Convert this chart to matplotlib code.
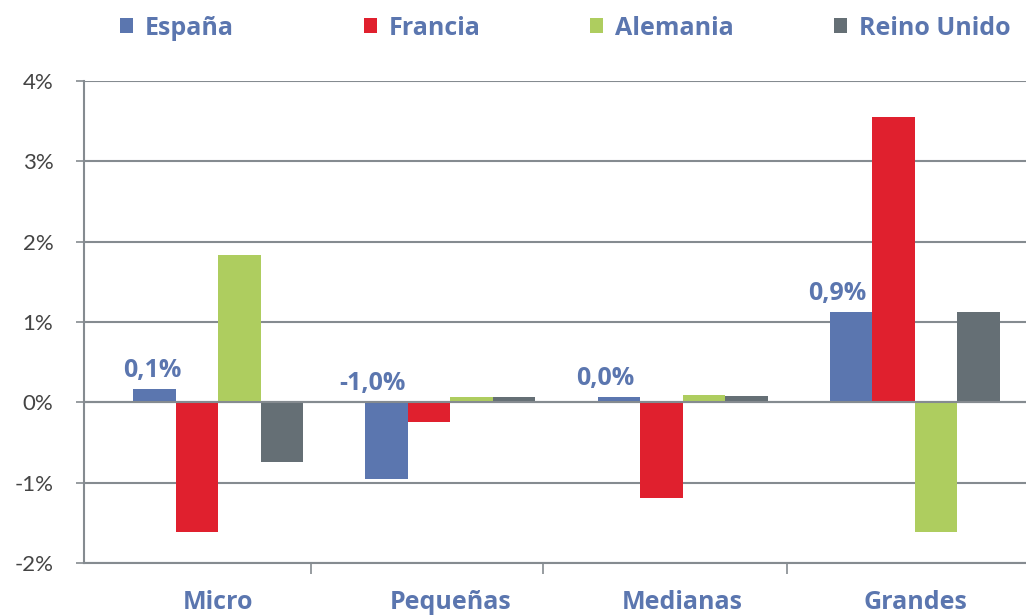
import numpy as np
import matplotlib
matplotlib.use("Agg")
import matplotlib.pyplot as plt
from matplotlib.patches import Rectangle

# data
categories = ["Micro", "Pequeñas", "Medianas", "Grandes"]
series = ["España", "Francia", "Alemania", "Reino Unido"]
espana = [0.17, -0.95, 0.07, 1.13]
francia = [-1.62, -0.24, -1.19, 3.55]
alemania = [1.84, 0.07, 0.09, -1.61]
reino_unido = [-0.74, 0.07, 0.08, 1.13]
espana_labels = ["0,1%", "-1,0%", "0,0%", "0,9%"]
yticks = [-2, -1, 0, 1, 2, 3, 4]

colors = ["#5B76AF", "#E0202E", "#AECD5F", "#656F75"]
label_blue = "#5B76AF"
grid_grey = "#858B90"

plt.rcParams['font.family'] = ['Open Sans', 'DejaVu Sans']

W, H = 1026, 615
fig = plt.figure(figsize=(W / 100, H / 100), dpi=100)
ax = fig.add_axes([84 / W, 1 - 563 / H, 1 - 84 / W, (563 - 81) / H])

x = np.arange(len(categories))
width = 0.183
values = [espana, francia, alemania, reino_unido]
for k, (vals, col) in enumerate(zip(values, colors)):
    ax.bar(x + (k - 1.5) * width, vals, width, color=col, zorder=3, linewidth=0)

# labels for España
for i, (v, txt) in enumerate(zip(espana, espana_labels)):
    xoff = -2 if i == 0 else -14
    ax.annotate(txt, (x[i] - 1.5 * width, max(v, 0)), xytext=(xoff, 6),
                textcoords="offset pixels", ha="center", va="bottom",
                fontsize=18, fontweight="bold", color=label_blue, zorder=4)

ax.set_ylim(-2, 4)
ax.set_xlim(-0.577, 3.478)
ax.set_yticks(yticks)
ax.set_yticklabels([f"{t}%" for t in yticks], fontsize=16, color="#444444",
                   fontfamily="Lato")
ax.yaxis.grid(True, color=grid_grey, linewidth=1.5, zorder=1)
ax.axhline(0, color=grid_grey, linewidth=1.5, zorder=4)
ax.tick_params(axis="y", length=6, width=1.2, color=grid_grey, pad=16)

ax.set_xticks([0.4, 1.4, 2.45])
ax.set_xticklabels([])
ax.tick_params(axis="x", length=8, width=1.2, color=grid_grey, direction="out")
for i, c in enumerate(categories):
    ax.text(x[i], -2.33, c, ha="center", va="top", fontsize=18,
            fontweight="bold", color=label_blue, clip_on=False)

for s in ["top", "right"]:
    ax.spines[s].set_visible(False)
ax.spines["left"].set_color(grid_grey)
ax.spines["left"].set_linewidth(1.5)
ax.spines["bottom"].set_color(grid_grey)
ax.spines["bottom"].set_linewidth(1.5)

# legend across the top, entries placed as in the reference
legend_x = [120, 364, 590, 834]
for lx, name, col in zip(legend_x, series, colors):
    fig.add_artist(Rectangle((lx / W, 1 - 33 / H), 13 / W, 15 / H,
                             transform=fig.transFigure, color=col, lw=0))
    fig.text((lx + 25) / W, 1 - 35 / H, name, ha="left", va="baseline",
             fontsize=18, fontweight="bold", color=label_blue)

fig.savefig("out.png", dpi=100)
